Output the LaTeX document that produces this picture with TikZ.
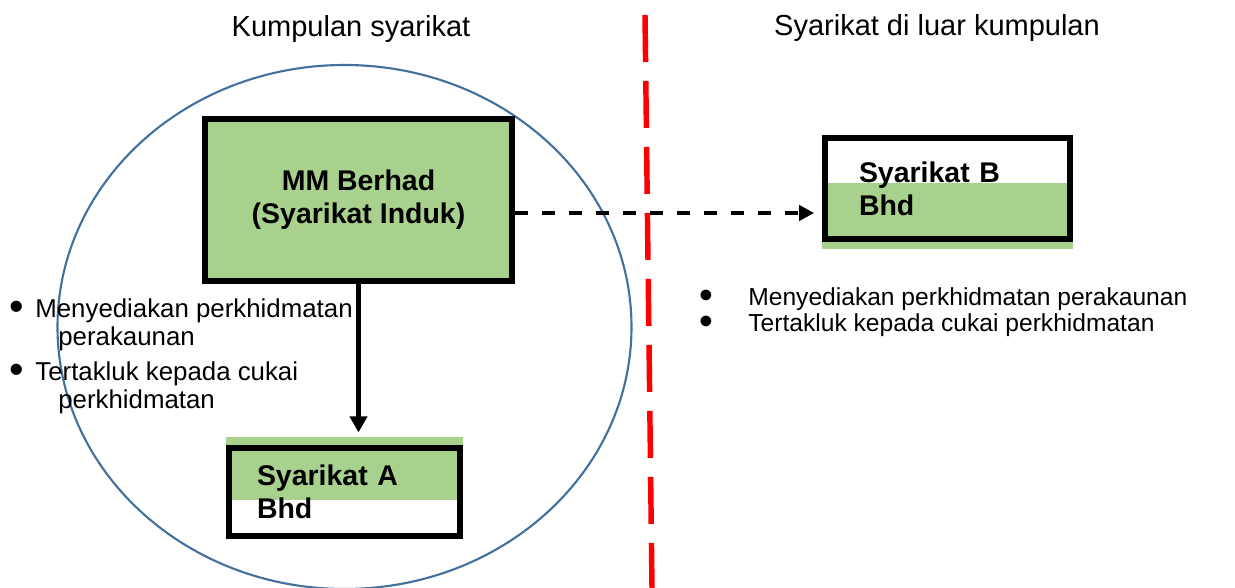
\documentclass[tikz,border=0pt]{standalone}
\usepackage{fontspec}
\setmainfont{Liberation Sans}
\usetikzlibrary{arrows.meta,backgrounds}

\definecolor{compgreen}{RGB}{169,209,142}
\definecolor{groupblue}{RGB}{65,113,156}
\definecolor{divred}{RGB}{255,0,0}

\newcommand{\notebullet}{\smash{\raisebox{-0.12em}{\scalebox{1.6}{\textbullet}}}}

\tikzset{
  compbox/.style={draw=black, line width=3.2pt, inner sep=0pt,
    font=\bfseries\fontsize{16.2}{18.7}\selectfont},
  headlabel/.style={inner sep=0pt, font=\fontsize{16.5}{20}\selectfont},
  bulletlist/.style={anchor=west, align=left, inner sep=0pt},
  groupline/.style={groupblue, line width=1.2pt},
  divline/.style={divred, line width=3.1pt, dash pattern=on 0.94cm off 0.38cm},
  ownarrow/.style={line width=2.4pt, -{Triangle[width=0.34cm,length=0.32cm]}},
  linkarrow/.style={line width=2.2pt, dash pattern=on 0.26cm off 0.28cm,
    -{Triangle[width=0.3cm,length=0.3cm]}}
}

\begin{document}
\begin{tikzpicture}

  \useasboundingbox (0,0) rectangle (24.7,11.76);

  % group circle
  \draw[groupline] (6.89,5.22) ellipse (5.74 and 5.24);

  % dividing line
  \coordinate (divtop) at (12.9,11.46);
  \coordinate (divbot) at (13.04,0);
  \draw[divline] (divtop) -- (divbot);

  % titles
  \node[headlabel] (grouptitle) at (7.02,11.17) {Kumpulan syarikat};
  \node[headlabel] (outsidetitle) at (18.74,11.2) {Syarikat di luar kumpulan};

  % parent company
  \node[compbox, fill=compgreen, align=center, minimum width=6.14cm,
    minimum height=3.25cm] (parent) at (7.17,7.76) {MM Berhad\\(Syarikat Induk)};
  % subsidiary
  \node[compbox, align=left, text width=3.5cm, inner xsep=0.56cm,
    minimum height=1.75cm] (compa) at (6.89,1.92) {Syarikat A\\Bhd};
  % company outside the group
  \node[compbox, align=left, text width=3.54cm, inner xsep=0.68cm,
    minimum height=2.02cm] (compb) at (18.95,7.99) {Syarikat B\\Bhd};

  % green parts of the small boxes
  \begin{scope}[on background layer]
    \fill[compgreen] ([yshift=0.16cm]compa.north west) rectangle ([yshift=-0.16cm]compa.east);
    \fill[compgreen] ([yshift=0.11cm]compb.west) rectangle ([yshift=-0.14cm]compb.south east);
  \end{scope}

  % arrows
  \draw[ownarrow, shorten >=0.26cm] (parent.south) -- (parent.south |- compa.north);
  \draw[linkarrow, shorten >=0.16cm] ([yshift=-0.26cm]parent.east)
    -- ([yshift=-0.26cm]parent.east -| compb.west);

  % notes left
  \node[bulletlist, font=\fontsize{14.7}{15.9}\selectfont] (leftnotes) at (0.18,4.64)
    {\makebox[0.52cm][l]{\notebullet}Menyediakan perkhidmatan\\
     \hspace*{0.98cm}perakaunan\\[4pt]
     \makebox[0.52cm][l]{\notebullet}Tertakluk kepada cukai\\
     \hspace*{0.98cm}perkhidmatan};
  % notes right
  \node[bulletlist, font=\fontsize{14}{14.7}\selectfont] (rightnotes) at (13.98,5.51)
    {\makebox[0.98cm][l]{\notebullet}Menyediakan perkhidmatan perakaunan\\
     \makebox[0.98cm][l]{\notebullet}Tertakluk kepada cukai perkhidmatan};

\end{tikzpicture}
\end{document}
